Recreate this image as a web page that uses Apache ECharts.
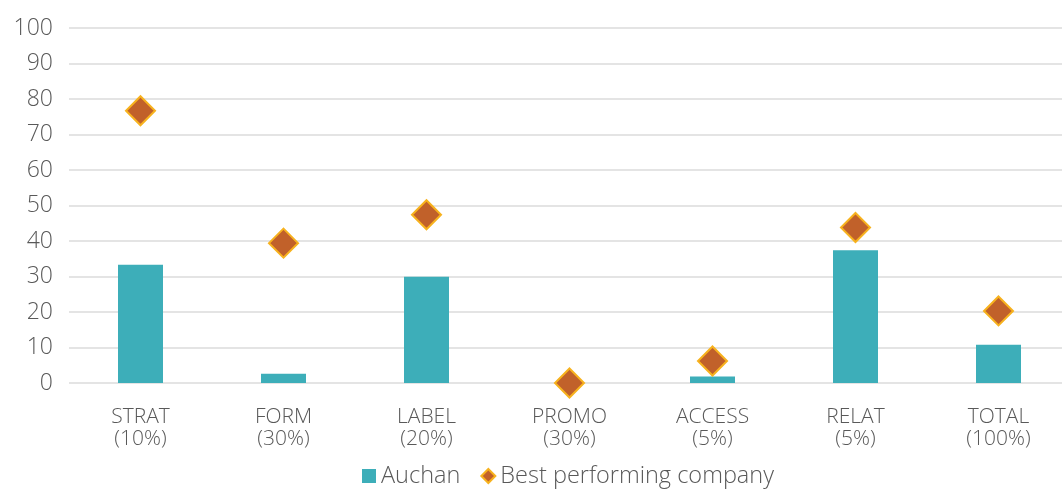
<!DOCTYPE html>
<html>
<head>
<meta charset="utf-8">
<script src="https://cdn.jsdelivr.net/npm/echarts@6/dist/echarts.min.js"></script>
<style>
  html, body { margin: 0; padding: 0; background: #fff; }
  #main { width: 1062px; height: 491px; }
</style>
</head>
<body>
<div id="main"></div>
<script>
// 数据
var categories = ['STRAT\n(10%)', 'FORM\n(30%)', 'LABEL\n(20%)', 'PROMO\n(30%)', 'ACCESS\n(5%)', 'RELAT\n(5%)', 'TOTAL\n(100%)'];
var auchan = [33.3, 2.6, 29.9, 0, 1.8, 37.4, 10.8];
var bestCompany = [76.7, 39.4, 47.4, 0, 6.2, 43.8, 20.3];

var myChart = echarts.init(document.getElementById('main'));

myChart.setOption({
	animation : false,
	textStyle : {
		fontFamily : 'Open Sans'
	},
	grid : {
		left : 69,
		width : 1001,
		top : 28,
		bottom : 108,
		outerBoundsMode : 'none'
	},
	legend : {
		bottom : -2,
		left : 357,
		itemWidth : 14,
		itemHeight : 14,
		itemGap : 20,
		textStyle : {
			fontSize : 23.5,
			fontWeight : 300,
			color : '#595959',
			fontFamily : 'Open Sans'
		},
		data : [ {
			name : 'Auchan',
			icon : 'rect'
		}, {
			name : 'Best performing company',
			icon : 'diamond',
			itemStyle : {
				borderColor : '#F7B21E',
				borderWidth : 2
			}
		} ]
	},
	xAxis : {
		type : 'category',
		data : categories,
		axisLine : { show : false },
		axisTick : { show : false },
		axisLabel : {
			margin : 23,
			fontSize : 21,
			fontWeight : 300,
			lineHeight : 22,
			color : '#595959',
			fontFamily : 'Open Sans'
		}
	},
	yAxis : {
		type : 'value',
		min : 0,
		max : 100,
		interval : 10,
		axisLine : { show : false },
		axisTick : { show : false },
		splitLine : {
			lineStyle : {
				color : '#E4E4E4',
				width : 2
			}
		},
		axisLabel : {
			margin : 16,
			fontSize : 23,
			fontWeight : 300,
			color : '#595959',
			fontFamily : 'Open Sans'
		}
	},
	series : [ {
		name : 'Auchan',
		type : 'bar',
		data : auchan,
		barWidth : 45,
		itemStyle : {
			color : '#3DAEB9'
		}
	}, {
		name : 'Best performing company',
		type : 'scatter',
		data : bestCompany,
		symbol : 'diamond',
		symbolSize : 29,
		itemStyle : {
			color : '#C1612A',
			borderColor : '#F7B21E',
			borderWidth : 2,
			opacity : 1
		}
	} ]
});
</script>
</body>
</html>
